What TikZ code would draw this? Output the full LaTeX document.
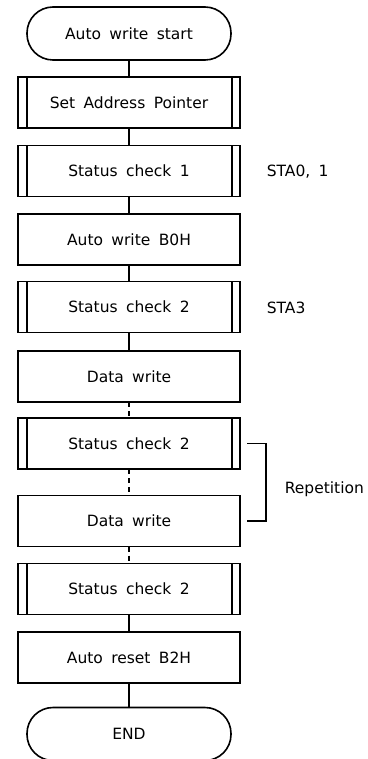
\documentclass[tikz,border=0pt]{standalone}
\usepackage{fontspec}
\setmainfont[WordSpace=1.7]{DejaVu Sans}
\begin{document}
\begin{tikzpicture}[x=1pt,y=-1pt,
  every node/.style={font=\fontsize{15.5}{18}\selectfont},
  line width=1.6pt,
  box/.style={draw, rectangle, minimum width=222pt, minimum height=51pt, inner sep=0pt, outer sep=0pt},
  subbox/.style={box, path picture={
     \draw[line width=1.6pt] ([xshift=9pt]path picture bounding box.north west) -- ([xshift=9pt]path picture bounding box.south west);
     \draw[line width=1.6pt] ([xshift=-8pt]path picture bounding box.north east) -- ([xshift=-8pt]path picture bounding box.south east);}},
  term/.style={draw, rectangle, rounded corners=26pt, minimum width=204pt, minimum height=53pt, inner sep=0pt, outer sep=0pt},
  conn/.style={draw, line width=1.6pt},
  dconn/.style={draw, line width=1.6pt, dash pattern=on 5pt off 4pt},
  lbl/.style={anchor=west, inner sep=0pt}
]
\useasboundingbox (0,0) rectangle (367,759);
\node[term]   (start) at (129,33.5) {Auto write start};
\node[subbox] (sap)   at (129,102.5) {Set Address Pointer};
\node[subbox] (sc1)   at (129,171) {Status check 1};
\node[box]    (aw)    at (129,239.5) {Auto write B0H};
\node[subbox] (sc2)   at (129,307) {Status check 2};
\node[box]    (dw1)   at (129,376.5) {Data write};
\node[subbox] (sc2b)  at (129,443.5) {Status check 2};
\node[box]    (dw2)   at (129,521) {Data write};
\node[subbox] (sc2c)  at (129,589) {Status check 2};
\node[box]    (ar)    at (129,657.5) {Auto reset B2H};
\node[term]   (end)   at (129,734) {END};

\path[conn] (start) -- (sap);
\path[conn] (sap) -- (sc1);
\path[conn] (sc1) -- (aw);
\path[conn] (aw) -- (sc2);
\path[conn] (sc2) -- (dw1);
\path[dconn] (dw1) -- (sc2b);
\path[dconn] (sc2b) -- (dw2);
\path[dconn] (dw2) -- (sc2c);
\path[conn] (sc2c) -- (ar);
\path[conn] (ar) -- (end);

\node[lbl] (l1) at (266,172) {STA0, 1};
\node[lbl] (l2) at (266,307.5) {STA3};
\coordinate (b1) at ([xshift=7pt]sc2b.east);
\coordinate (b2) at ([xshift=7pt]dw2.east);
\draw (b1) -- ++(19,0) |- (b2);
\node[lbl] (rep) at (284,489) {Repetition};
\end{tikzpicture}
\end{document}
